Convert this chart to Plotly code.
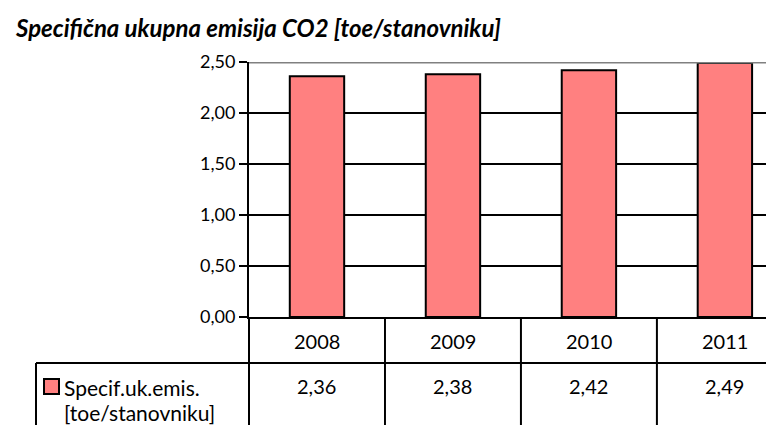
import plotly.graph_objects as go

# ---- data ----
years = ["2008", "2009", "2010", "2011"]
values = [2.36, 2.38, 2.42, 2.49]
value_labels = ["2,36", "2,38", "2,42", "2,49"]
y_ticks = [0.0, 0.5, 1.0, 1.5, 2.0, 2.5]
y_tick_labels = ["0,00", "0,50", "1,00", "1,50", "2,00", "2,50"]
chart_title = "Specifična ukupna emisija CO2 [toe/stanovniku]"
series_lines = ["Specif.uk.emis.", "[toe/stanovniku]"]

W, H = 774, 425
L, T, B = 241, 54, 116
PW, PH = W - L, H - T - B
FONT = "Lato"
BAR = "#FF8080"


def py(pix):
    return (H - B - pix) / PH


def px(pix):
    return (pix - L) / PW


fig = go.Figure()
fig.add_trace(go.Bar(
    x=list(range(len(years))), y=values, width=0.4,
    marker=dict(color=BAR, line=dict(color="black", width=2)),
    showlegend=False, hoverinfo="skip",
))

shapes = []
# top plot border (gray)
shapes.append(dict(type="line", xref="paper", yref="y", x0=0, x1=1, y0=2.5, y1=2.5,
                   line=dict(color="#808080", width=3)))
# table horizontal line
shapes.append(dict(type="line", xref="paper", yref="paper", x0=px(28), x1=1,
                   y0=py(355), y1=py(355), line=dict(color="black", width=2)))
# left border of legend cell
shapes.append(dict(type="line", xref="paper", yref="paper", x0=px(28), x1=px(28),
                   y0=py(355), y1=py(430), line=dict(color="black", width=2)))
# y axis extension downward
shapes.append(dict(type="line", xref="paper", yref="paper", x0=0, x1=0,
                   y0=0, y1=py(430), line=dict(color="black", width=2)))
# column dividers
for i in range(1, len(years)):
    shapes.append(dict(type="line", xref="x", yref="paper", x0=i - 0.5, x1=i - 0.5,
                       y0=0, y1=py(430), line=dict(color="black", width=2)))
# legend square
shapes.append(dict(type="rect", xref="paper", yref="paper", x0=px(36), x1=px(51),
                   y0=py(386), y1=py(371), fillcolor=BAR,
                   line=dict(color="black", width=2)))

annotations = []
for i, (yr, vl) in enumerate(zip(years, value_labels)):
    annotations.append(dict(x=i, xref="x", y=py(333), yref="paper", text=yr,
                            showarrow=False, xanchor="center", yanchor="middle",
                            font=dict(family=FONT, size=20, color="black")))
    annotations.append(dict(x=i, xref="x", y=py(378), yref="paper", text=vl,
                            showarrow=False, xanchor="center", yanchor="middle",
                            font=dict(family=FONT, size=20, color="black")))
for line_txt, ypix in zip(series_lines, [379, 404]):
    annotations.append(dict(x=px(55), xref="paper", y=py(ypix), yref="paper",
                            text=line_txt, showarrow=False, xanchor="left",
                            yanchor="middle", borderpad=0,
                            font=dict(family=FONT, size=21, color="black")))

fig.update_layout(
    width=W, height=H,
    margin=dict(l=L, r=0, t=T, b=B, pad=0),
    paper_bgcolor="white", plot_bgcolor="white",
    title=dict(text=chart_title, x=8 / W, xanchor="left", y=1 - 21 / H,
               yanchor="middle",
               font=dict(family=FONT, size=24, color="black",
                         weight="bold", style="italic")),
    xaxis=dict(range=[-0.5, 3.42], showticklabels=False, showgrid=False,
               zeroline=False, showline=True, linecolor="black", linewidth=2,
               ticks="", fixedrange=True),
    yaxis=dict(range=[0, 2.5], tickvals=y_ticks, ticktext=y_tick_labels,
               ticks="outside", ticklen=8, tickwidth=2, tickcolor="black",
               showline=True, linecolor="black", linewidth=2,
               showgrid=True, gridcolor="black", gridwidth=2,
               zeroline=False,
               tickfont=dict(family=FONT, size=18, color="black")),
    shapes=shapes,
    annotations=annotations,
    bargap=0.6,
)

fig.write_html("out.html")
